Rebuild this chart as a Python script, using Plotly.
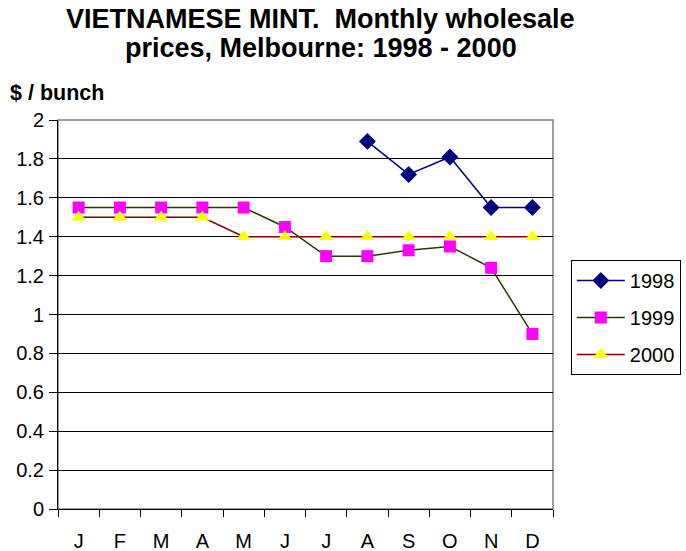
import plotly.graph_objects as go

months = ["J", "F", "M", "A", "M", "J", "J", "A", "S", "O", "N", "D"]
x_pos = list(range(len(months)))

# prix mensuels ($ / bunch), None = pas de donnée
price_1998 = [None, None, None, None, None, None, None, 1.89, 1.72, 1.81, 1.55, 1.55]
price_1999 = [1.55, 1.55, 1.55, 1.55, 1.55, 1.45, 1.30, 1.30, 1.33, 1.35, 1.24, 0.90]
price_2000 = [1.50, 1.50, 1.50, 1.50, 1.40, 1.40, 1.40, 1.40, 1.40, 1.40, 1.40, 1.40]

FONT = "Liberation Sans, Arial, sans-serif"

fig = go.Figure()
fig.add_trace(go.Scatter(x=x_pos, y=price_1998, name="1998", mode="lines+markers", legendgroup="a",
                         line=dict(color="#000080", width=1.5),
                         marker=dict(symbol="diamond", size=13, color="#000080")))
fig.add_trace(go.Scatter(x=x_pos, y=price_1999, name="1999", mode="lines+markers", legendgroup="b",
                         line=dict(color="#333300", width=1.5),
                         marker=dict(symbol="square", size=12, color="#FF00FF")))
fig.add_trace(go.Scatter(x=x_pos, y=price_2000, name="2000", mode="lines+markers", legendgroup="c",
                         line=dict(color="#800000", width=1.5),
                         marker=dict(symbol="triangle-up", size=13, color="#FFFF00")))

fig.update_xaxes(range=[-0.5, 11.5], tickvals=x_pos, ticktext=months, ticks="",
                 automargin=False, ticklabelstandoff=14,
                 showgrid=False, zeroline=False, showline=True, linecolor="black", linewidth=1,
                 tickfont=dict(size=20, color="black", family=FONT),
                 minor=dict(tickvals=[i - 0.5 for i in range(13)], ticks="outside",
                            ticklen=7, tickcolor="black", showgrid=False))
fig.update_yaxes(range=[0, 2], dtick=0.2, ticks="outside", ticklen=8, tickcolor="black",
                 automargin=False, ticklabelstandoff=1,
                 showgrid=True, gridcolor="black", gridwidth=1, zeroline=False,
                 showline=True, linecolor="black", linewidth=1,
                 tickfont=dict(size=20, color="black", family=FONT))

# cadre gris haut/droite
fig.add_shape(type="rect", xref="paper", yref="paper", x0=0, y0=0, x1=1, y1=1,
              line=dict(color="#808080", width=1.5), layer="below")

fig.update_layout(
    width=686, height=551,
    margin=dict(l=58, r=133, t=120, b=42, autoexpand=False),
    plot_bgcolor="white", paper_bgcolor="white",
    font=dict(family=FONT, color="black"),
    legend=dict(x=1.036, y=0.64, xanchor="left", yanchor="top", bordercolor="black",
                borderwidth=1, bgcolor="white", font=dict(size=20, family=FONT),
                itemwidth=48, tracegroupgap=8),
    showlegend=True,
    annotations=[
        dict(text="<b>VIETNAMESE MINT.  Monthly wholesale</b>",
             xref="paper", yref="paper", x=0.531, y=1.259, xanchor="center", yanchor="middle",
             showarrow=False, font=dict(size=27, family=FONT, color="black")),
        dict(text="<b>prices, Melbourne: 1998 - 2000</b>",
             xref="paper", yref="paper", x=0.531, y=1.184, xanchor="center", yanchor="middle",
             showarrow=False, font=dict(size=27, family=FONT, color="black")),
        dict(text="<b>$ / bunch</b>", xref="paper", yref="paper", x=-0.101, y=1.069,
             xanchor="left", yanchor="middle", showarrow=False,
             font=dict(size=21.5, family=FONT, color="black")),
    ],
)

# pas de marge autour du graphique dans la page
fig.write_html("out.html", config={"displayModeBar": False},
               post_script="document.body.style.margin='0';")
